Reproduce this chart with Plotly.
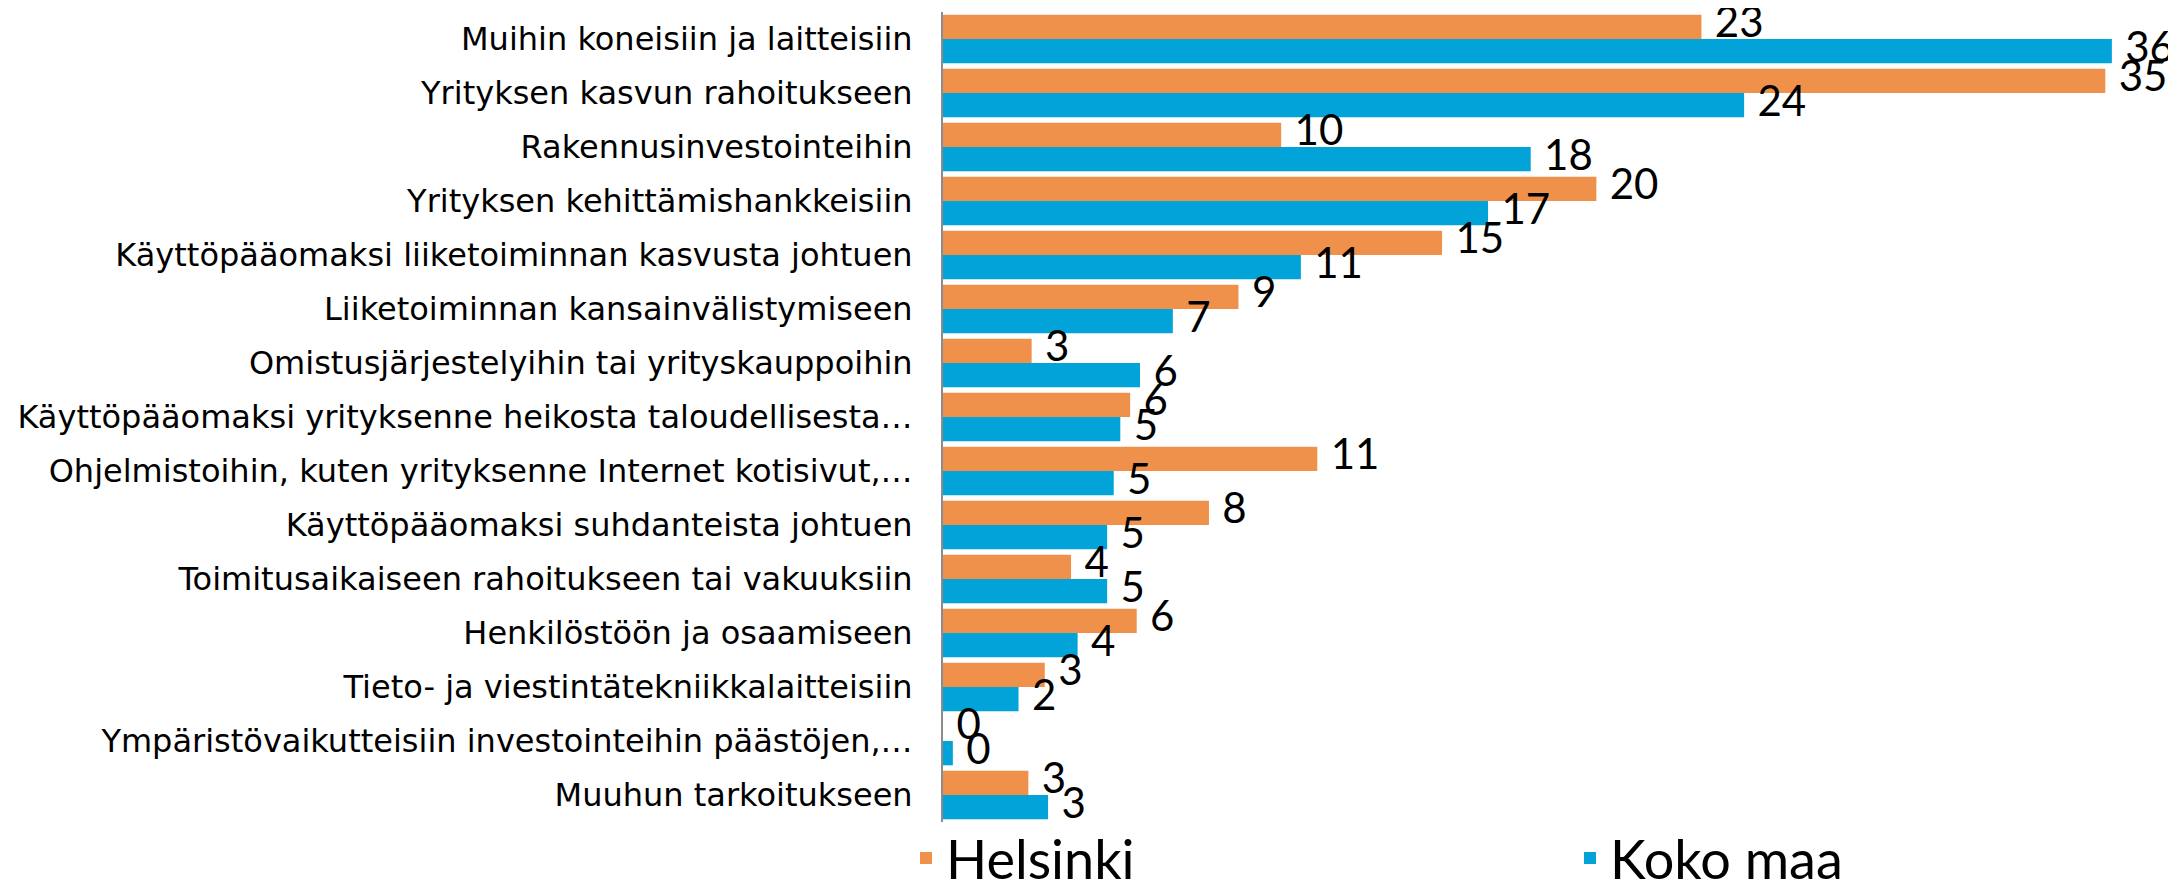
import plotly.graph_objects as go

categories = [
    "Muihin koneisiin ja laitteisiin",
    "Yrityksen kasvun rahoitukseen",
    "Rakennusinvestointeihin",
    "Yrityksen kehittämishankkeisiin",
    "Käyttöpääomaksi liiketoiminnan kasvusta johtuen",
    "Liiketoiminnan kansainvälistymiseen",
    "Omistusjärjestelyihin tai yrityskauppoihin",
    "Käyttöpääomaksi yrityksenne heikosta taloudellisesta…",
    "Ohjelmistoihin, kuten yrityksenne Internet kotisivut,…",
    "Käyttöpääomaksi suhdanteista johtuen",
    "Toimitusaikaiseen rahoitukseen tai vakuuksiin",
    "Henkilöstöön ja osaamiseen",
    "Tieto- ja viestintätekniikkalaitteisiin",
    "Ympäristövaikutteisiin investointeihin päästöjen,…",
    "Muuhun tarkoitukseen",
]
helsinki = [23.1, 35.4, 10.3, 19.9, 15.2, 9.0, 2.7, 5.7, 11.4, 8.1, 3.9, 5.9, 3.1, 0.0, 2.6]
koko_maa = [35.6, 24.4, 17.9, 16.6, 10.9, 7.0, 6.0, 5.4, 5.2, 5.0, 5.0, 4.1, 2.3, 0.3, 3.2]

ORANGE = "#F0914B"
BLUE = "#02A3D9"
W, H = 2176, 881

series = [("Helsinki", helsinki, ORANGE), ("Koko maa", koko_maa, BLUE)]

fig = go.Figure()
for name, vals, col in series:
    fig.add_trace(go.Bar(
        y=categories, x=vals, name=name, orientation="h",
        marker=dict(color=col, line=dict(width=0)),
        offsetgroup=name, alignmentgroup="a",
        hoverinfo="skip",
    ))
# value labels drawn on top of all bars
for name, vals, col in series:
    fig.add_trace(go.Scatter(
        y=categories, x=vals, mode="text", orientation="h",
        text=["\u00a0\u200a" + f"{v:.0f}" for v in vals], textposition="middle right",
        textfont=dict(family="Lato", size=42, color="black"),
        offsetgroup=name, alignmentgroup="a",
        showlegend=False, cliponaxis=False, hoverinfo="skip",
    ))

fig.update_layout(
    width=W, height=H,
    margin=dict(l=935, r=59, t=4, b=67, autoexpand=False),
    barmode="group", bargap=0.1, bargroupgap=0,
    scattermode="group", scattergap=0.1,
    plot_bgcolor="white", paper_bgcolor="white",
    xaxis=dict(visible=False, range=[0, 36], showgrid=False, zeroline=False),
    yaxis=dict(range=[14.5, -0.5], autorange=False, showline=True, linecolor="#8C8C8C", linewidth=2,
               ticks="", showgrid=False, ticklabelstandoff=22,
               tickfont=dict(family="DejaVu Sans", size=32, color="black")),
    legend=dict(orientation="h", x=-0.0313, xanchor="left", y=-0.0448, yanchor="middle",
                font=dict(family="Lato", size=54, color="black"),
                entrywidth=619, bgcolor="rgba(0,0,0,0)"),
    showlegend=True,
)

fig.write_html("out.html")
